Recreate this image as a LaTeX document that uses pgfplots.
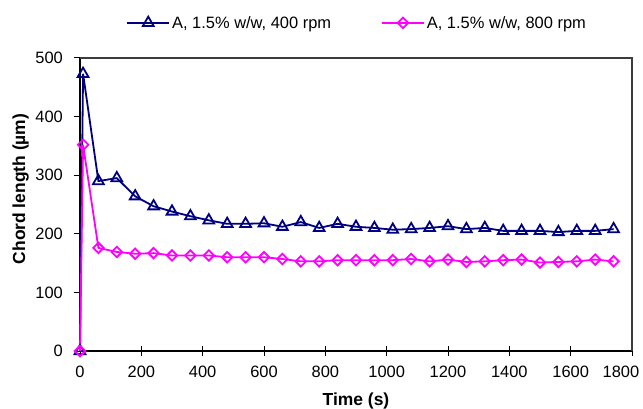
\documentclass[border=0pt]{standalone}
\usepackage{fontspec}
\setmainfont{Liberation Sans}
\usepackage{pgfplots}
\pgfplotsset{compat=1.18}
\definecolor{navyline}{RGB}{0,0,128}
\definecolor{magline}{RGB}{255,0,255}
\definecolor{framegray}{RGB}{60,60,60}

% Chord length measured over time at two stirring speeds
\pgfplotstableread{
t    len
0    0
10   473
60   290
120  295
180  264
240  247
300  238
360  230
420  223
480  217
540  217
600  218
660  212
720  220
780  210
840  217
900  212
960  210
1020 207
1080 208
1140 210
1200 213
1260 208
1320 210
1380 205
1440 205
1500 205
1560 203
1620 205
1680 205
1740 208
}\lowspeed

\pgfplotstableread{
t    len
0    0
10   352
60   176
120  169
180  166
240  167
300  163
360  163
420  163
480  160
540  160
600  160
660  157
720  153
780  153
840  155
900  155
960  155
1020 155
1080 157
1140 153
1200 156
1260 152
1320 153
1380 155
1440 156
1500 151
1560 152
1620 153
1680 156
1740 153
}\highspeed

\begin{document}
\begin{tikzpicture}
\useasboundingbox (-80bp,-58bp) rectangle (563bp,351bp);
\begin{axis}[
  scale only axis, width=552bp, height=293bp,
  at={(0,0)}, anchor=south west,
  xmin=0, xmax=1800, ymin=0, ymax=500,
  xtick={0,200,...,1600},
  extra x ticks={1800},
  extra x tick style={xticklabel style={xshift=-11bp}},
  ytick={0,100,...,500},
  xtick pos=bottom,
  ytick pos=left,
  xtick align=center,
  ytick align=outside,
  major tick length=10bp,
  ytick style={/pgfplots/major tick length=6bp},
  tick style={black, line width=1bp},
  axis line style={black, line width=1.5bp},
  /pgf/number format/assume math mode=true,
  /pgf/number format/1000 sep={},
  tick label style={font=\fontsize{16.5}{19}\selectfont},
  xticklabel style={anchor=north, inner sep=0pt, yshift=-10bp},
  yticklabel style={anchor=east, inner sep=0pt, xshift=-7bp},
  xlabel={Time (s)},
  ylabel={Chord length (µm)},
  every axis x label/.style={at={(axis description cs:0.5,-0.1867)}, anchor=base,
    font=\bfseries\fontsize{17.5}{20}\selectfont},
  every axis y label/.style={at={(axis description cs:-0.0996,0.553)}, rotate=90, anchor=base,
    font=\bfseries\fontsize{17.5}{20}\selectfont},
  clip=false,
  legend columns=2,
  legend style={at={(axis description cs:0.502,1.12)}, anchor=center,
    draw=none, fill=none, font=\fontsize{16.5}{19}\selectfont,
    /tikz/every even column/.append style={column sep=48bp}},
  legend image code/.code={%
    \draw[mark repeat=2,mark phase=2,#1] plot coordinates {(0bp,0bp) (21bp,0bp) (42bp,0bp)};},
]
\addplot[navyline, line width=1.8bp, mark=triangle, mark size=6.2bp,
  mark options={fill=white, line width=1.8bp}] table[x=t, y=len] {\lowspeed};
\addlegendentry{A, 1.5\% w/w, 400 rpm}
\addplot[magline, line width=1.8bp, mark=square, mark size=3.7bp,
  mark options={rotate=45, fill=white, line width=1.8bp}] table[x=t, y=len] {\highspeed};
\addlegendentry{A, 1.5\% w/w, 800 rpm}
\end{axis}
% top and right edges of the plot area
\draw[framegray, line width=2.2bp] (0,293bp) -- (552bp,293bp) -- (552bp,0);
\end{tikzpicture}
\end{document}
